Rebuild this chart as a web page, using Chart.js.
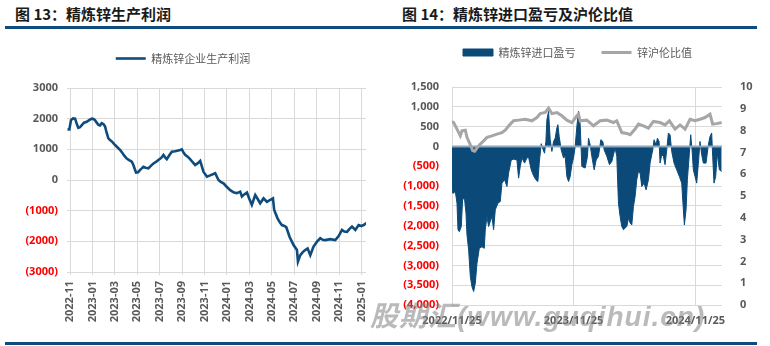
<!DOCTYPE html>
<html lang="zh-CN">
<head>
<meta charset="UTF-8">
<title>精炼锌生产利润 / 进口盈亏</title>
<script src="https://cdn.jsdelivr.net/npm/chart.js"></script>
<style>
    body {
        margin: 0;
        width: 770px;
        height: 346px;
        background: #fff;
        position: relative;
        overflow: hidden;
        font-family: "Noto Sans CJK SC", sans-serif;
    }
    .title {
        position: absolute;
        top: 5px;
        font-size: 15px;
        font-weight: 700;
        line-height: 18px;
        color: #1a1a1a;
        white-space: nowrap;
    }
    .rule {
        position: absolute;
        left: 5px;
        width: 752px;
        height: 3px;
        background: #0f4c7d;
    }
    .panel {
        position: absolute;
        top: 35px;
        width: 385px;
        height: 300px;
    }
    .watermark {
        position: absolute;
        left: 370px;
        top: 294px;
        font: italic 700 28px "Liberation Sans", "Noto Sans CJK SC", sans-serif;
        letter-spacing: 1px;
        color: rgba(130, 130, 130, 0.55);
        white-space: nowrap;
        pointer-events: none;
    }
</style>
</head>
<body>
<div class="title" style="left:15px">图 13：精炼锌生产利润</div>
<div class="title" style="left:402px">图 14：精炼锌进口盈亏及沪伦比值</div>
<div class="rule" style="top:26px"></div>

<div class="panel" style="left:0"><canvas id="profitChart"></canvas></div>
<div class="panel" style="left:385px"><canvas id="importChart"></canvas></div>

<div class="rule" style="top:342px"></div>
<div class="watermark">股期汇(www.guqihui.cn)</div>

<script>
    // 精炼锌企业生产利润 (元/吨), x = months since 2022-11
    const profitMonth = [
        -0.22, -0.06, 0.09, 0.27, 0.45, 0.63, 0.74, 0.89, 1.07, 1.25,
        1.49, 1.7, 1.94, 2.1, 2.23, 2.38, 2.53, 2.68, 2.83, 2.99,
        3.13, 3.26, 3.42, 3.57, 3.75, 4.02, 4.24, 4.46, 4.64, 4.82,
        5.06, 5.27, 5.51, 5.65, 5.78, 5.89, 6.07, 6.25, 6.4, 6.54,
        6.74, 6.99, 7.23, 7.44, 7.63, 7.88, 8.13, 8.33, 8.48, 8.63,
        8.84, 9.08, 9.38, 9.64, 9.82, 9.97, 10.12, 10.27, 10.49, 10.71,
        10.94, 11.16, 11.38, 11.61, 11.9, 12.21, 12.5, 12.95, 13.24, 13.44,
        13.69, 13.97, 14.29, 14.58, 14.88, 15.18, 15.33, 15.54, 15.78, 15.98,
        16.22, 16.37, 16.52, 16.74, 16.96, 17.26, 17.56, 17.86, 18.1, 18.21,
        18.51, 18.71, 18.9, 19.11, 19.29, 19.58, 19.78, 19.94, 20.24, 20.33,
        20.54, 20.76, 20.98, 21.19, 21.43, 21.72, 22.03, 22.32, 22.54, 22.77,
        23.21, 23.66, 23.96, 24.26, 24.46, 24.71, 24.91, 25.15, 25.45, 25.74,
        25.98, 26.19, 26.49
    ];
    const profitValue = [
        1650, 1650, 1960, 2010, 2000, 1800, 1700, 1720, 1800, 1870,
        1900, 1950, 2000, 1990, 1950, 1870, 1800, 1780, 1850, 1820,
        1740, 1550, 1360, 1300, 1250, 1140, 1060, 980, 900, 800,
        700, 650, 600, 490, 350, 240, 250, 330, 380, 430,
        400, 380, 470, 540, 580, 650, 720, 815, 740, 680,
        800, 920, 940, 960, 980, 1000, 900, 820, 760, 680,
        580, 490, 540, 620, 270, 110, 150, 220, 0, -60,
        -110, -220, -330, -400, -430, -380, -540, -470, -410, -600,
        -810, -650, -490, -620, -760, -600, -710, -650, -600, -980,
        -1250, -1380, -1470, -1500, -1540, -1850, -2000, -2120, -2280, -2660,
        -2450, -2350, -2280, -2230, -2450, -2170, -2010, -1900, -1950, -1960,
        -1930, -1960, -1830, -1630, -1680, -1690, -1600, -1520, -1630, -1470,
        -1500, -1470, -1390
    ];
    const profitTicks = [
        '2022-11', '2023-01', '2023-03', '2023-05', '2023-07', '2023-09', '2023-11',
        '2024-01', '2024-03', '2024-05', '2024-07', '2024-09', '2024-11', '2025-01'
    ];

    // 精炼锌进口盈亏 (元/吨), x = days since 2022/11/25
    const importDay = [
        0, 3, 10, 15, 18, 22, 28, 32, 38, 42,
        45, 50, 55, 60, 65, 70, 75, 82, 90, 97,
        100, 105, 110, 115, 120, 125, 130, 138, 145, 150,
        158, 165, 170, 178, 185, 195, 200, 205, 210, 218,
        225, 230, 238, 245, 252, 258, 262, 268, 272, 278,
        282, 285, 290, 295, 300, 305, 310, 315, 318, 322,
        328, 335, 340, 345, 350, 355, 360, 365, 370, 375,
        380, 385, 390, 400, 407, 410, 415, 420, 427, 433,
        440, 447, 453, 457, 465, 473, 480, 485, 490, 495,
        500, 505, 510, 515, 520, 525, 530, 535, 540, 545,
        550, 555, 560, 565, 570, 577, 583, 590, 595, 603,
        607, 613, 617, 622, 625, 630, 635, 640, 645, 650,
        655, 660, 667, 675, 683, 690, 695, 698, 703, 707,
        713, 717, 721, 725, 730, 735, 740, 745, 750, 755,
        763, 770, 775, 780, 783, 787, 792, 797, 803, 810
    ];
    const importPL = [
        -700, -1180, -1140, -1430, -2100, -2150, -2020, -1300, -1350, -1680,
        -2230, -2610, -3280, -3540, -3660, -3450, -2950, -2570, -2530, -2570,
        -2100, -1770, -2020, -1890, -1770, -2100, -1600, -1430, -1390, -925,
        -840, -1010, -670, -340, -320, -340, -800, -505, -290, -420,
        -290, -270, -590, -740, -840, -885, -420, 70, -40, -170,
        126, 675, 885, 170, -126, 126, 210, 465, 550, 250,
        -85, -290, -250, -760, -885, -760, -460, -290, 0, 505,
        885, 550, -505, -545, -250, 210, 40, -250, -590, -340,
        -250, 170, 126, -85, -250, -460, -380, -210, -40, -250,
        -1430, -1770, -2020, -2100, -2060, -2020, -1810, -1930, -1980, -1515,
        -1260, -840, -630, -670, -1010, -925, -1095, -840, -420, -85,
        170, 40, 210, 126, -420, -210, -250, -460, -85, 340,
        295, -126, -420, -590, -760, -925, -1600, -1980, -1600, -840,
        -170, 295, -85, -590, -760, -925, -420, 126, -210, -420,
        -420, 40, 250, 340, -250, -925, -760, -170, -590, -630
    ];

    // 锌沪伦比值
    const ratioDay = [
        0, 5, 15, 25, 30, 40, 45, 55, 62, 68,
        75, 85, 95, 105, 120, 135, 150, 160, 175, 185,
        200, 220, 240, 255, 265, 280, 290, 300, 315, 330,
        345, 360, 375, 380, 385, 405, 425, 445, 465, 485,
        495, 510, 525, 535, 550, 560, 575, 590, 605, 625,
        640, 653, 670, 685, 700, 715, 730, 745, 760, 775,
        783, 795, 810
    ];
    const ratioValue = [
        8.42, 8.37, 8.07, 7.76, 7.99, 8.02, 7.69, 7.35, 7.08, 7.05,
        7.2, 7.38, 7.53, 7.69, 7.76, 7.84, 7.91, 8.02, 8.3, 8.45,
        8.48, 8.52, 8.45, 8.6, 8.78, 8.83, 9.03, 8.78, 8.83, 8.68,
        8.48, 8.37, 8.68, 8.75, 8.45, 8.48, 8.22, 8.45, 8.48, 8.37,
        8.45, 7.91, 7.87, 7.81, 8.07, 8.3, 8.22, 8.11, 8.42, 8.37,
        8.26, 8.45, 8.07, 8.26, 8.07, 8.52, 8.45, 8.52, 8.6, 8.75,
        8.3, 8.32, 8.37
    ];
    const importTickDays = [0, 365, 731];
    const importTicks = ['2022/11/25', '2023/11/25', '2024/11/25'];

    const BLUE = '#0f4c7d';
    const GRAY_LINE = '#a6a6a6';
    const GRID = '#d9d9d9';
    const TEXT = '#595959';
    const RED = '#ff0000';
    const tickFont = { family: '"Open Sans", "Noto Sans CJK SC", sans-serif', size: 11, weight: 'bold' };
    const legendFont = { family: '"Noto Sans CJK SC", sans-serif', size: 11 };
    const negColor = ctx => ctx.tick.value < 0 ? RED : TEXT;

    Chart.defaults.animation = false;
    Chart.defaults.responsive = true;
    Chart.defaults.maintainAspectRatio = false;

    // fixes the legend block height so the plot starts at a set distance below it
    const legendHeight = {
        id: 'legendHeight',
        beforeInit(chart, args, opts) {
            const legend = chart.legend;
            const fit = legend.fit;
            legend.fit = function () {
                fit.call(this);
                this.height = opts.height;
            };
        }
    };

    const legendLabels = {
        usePointStyle: true,
        pointStyleWidth: 30,
        boxHeight: 7,
        color: TEXT,
        font: legendFont,
        padding: 10
    };

    new Chart(document.getElementById('profitChart'), {
        type: 'line',
        data: {
            datasets: [{
                label: '精炼锌企业生产利润',
                data: profitMonth.map((m, i) => ({ x: m, y: profitValue[i] })),
                borderColor: BLUE,
                backgroundColor: BLUE,
                borderWidth: 2.6,
                pointRadius: 0,
                pointStyle: 'line',
                tension: 0
            }]
        },
        options: {
            layout: { padding: { left: 0, right: 19, top: 8, bottom: 0 } },
            plugins: {
                legend: { labels: legendLabels },
                legendHeight: { height: 45 },
                tooltip: { enabled: false }
            },
            scales: {
                x: {
                    type: 'linear',
                    min: -0.27,
                    max: 26.4,
                    afterBuildTicks: s => { s.ticks = profitTicks.map((_, i) => ({ value: i * 2 })); },
                    afterFit: s => { s.height = 63; },
                    ticks: {
                        autoSkip: false,
                        minRotation: 90,
                        maxRotation: 90,
                        padding: 6,
                        color: TEXT,
                        font: tickFont,
                        callback: (v, i) => profitTicks[i]
                    },
                    grid: { color: GRID, tickLength: 3 },
                    border: { display: false }
                },
                y: {
                    min: -3000,
                    max: 3000,
                    afterFit: s => { s.width = 67; },
                    ticks: {
                        stepSize: 1000,
                        padding: 9,
                        color: negColor,
                        font: tickFont,
                        callback: v => v < 0 ? '(' + (-v) + ')' : String(v)
                    },
                    grid: { color: GRID, drawTicks: false },
                    border: { display: false }
                }
            }
        },
        plugins: [legendHeight]
    });

    // the zero axis line sits on top of the filled area but under the ratio line
    const zeroAxis = {
        id: 'zeroAxis',
        afterDatasetDraw(chart, args) {
            if (args.index !== 0) return;
            const { ctx, chartArea, scales } = chart;
            const y = scales.y.getPixelForValue(0);
            ctx.save();
            ctx.strokeStyle = '#8ea7bc';
            ctx.lineWidth = 2;
            ctx.beginPath();
            ctx.moveTo(chartArea.left, y);
            ctx.lineTo(chartArea.right, y);
            ctx.stroke();
            ctx.restore();
        }
    };

    new Chart(document.getElementById('importChart'), {
        type: 'line',
        data: {
            datasets: [{
                label: '精炼锌进口盈亏',
                data: importDay.map((d, i) => ({ x: d, y: importPL[i] })),
                borderColor: '#0b4a78',
                backgroundColor: '#0b4a78',
                borderWidth: 1,
                fill: 'origin',
                pointRadius: 0,
                pointStyle: 'rect',
                tension: 0,
                yAxisID: 'y'
            }, {
                label: '锌沪伦比值',
                data: ratioDay.map((d, i) => ({ x: d, y: ratioValue[i] })),
                borderColor: GRAY_LINE,
                backgroundColor: GRAY_LINE,
                borderWidth: 3,
                pointRadius: 0,
                pointStyle: 'line',
                tension: 0,
                order: -1,
                yAxisID: 'y1'
            }]
        },
        options: {
            layout: { padding: { left: 0, right: 0, top: -14, bottom: 0 } },
            plugins: {
                legend: {
                    labels: Object.assign({}, legendLabels, {
                        padding: 26,
                        sort: (a, b) => a.datasetIndex - b.datasetIndex
                    })
                },
                legendHeight: { height: 66 },
                tooltip: { enabled: false }
            },
            scales: {
                x: {
                    type: 'linear',
                    min: 0,
                    max: 811,
                    afterBuildTicks: s => { s.ticks = importTickDays.map(d => ({ value: d })); },
                    afterFit: s => { s.height = 30; },
                    ticks: {
                        autoSkip: false,
                        maxRotation: 0,
                        padding: 9,
                        color: TEXT,
                        font: tickFont,
                        callback: (v, i) => importTicks[i]
                    },
                    grid: { color: GRID, drawTicks: false },
                    border: { display: false }
                },
                y: {
                    position: 'left',
                    min: -4000,
                    max: 1500,
                    afterFit: s => { s.width = 67; },
                    ticks: {
                        stepSize: 500,
                        padding: 13,
                        color: negColor,
                        font: tickFont,
                        callback: v => v < 0 ? '(' + (-v).toLocaleString('en-US') + ')' : v.toLocaleString('en-US')
                    },
                    grid: { color: GRID, drawTicks: false },
                    border: { display: false }
                },
                y1: {
                    position: 'right',
                    min: 0,
                    max: 10,
                    afterFit: s => { s.width = 48; },
                    ticks: {
                        stepSize: 1,
                        padding: 10,
                        color: TEXT,
                        font: tickFont
                    },
                    grid: { display: false },
                    border: { display: false }
                }
            }
        },
        plugins: [zeroAxis, legendHeight]
    });
</script>
</body>
</html>
